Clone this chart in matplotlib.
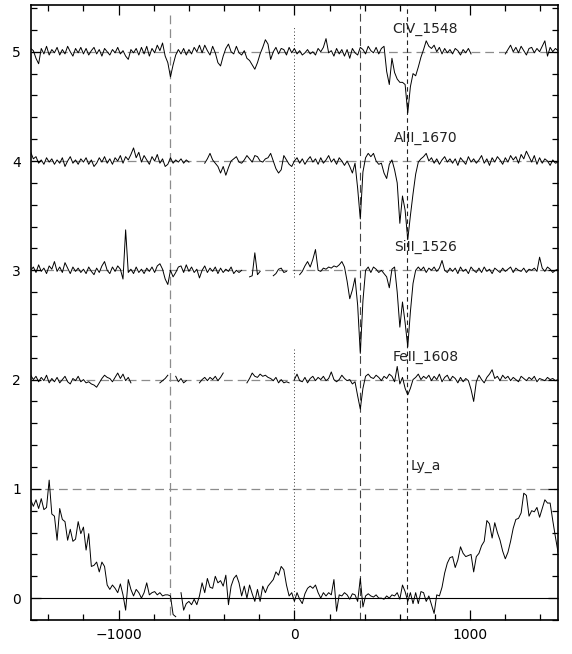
import numpy as np
import matplotlib
matplotlib.use('Agg')
import matplotlib.pyplot as plt
from matplotlib.ticker import MultipleLocator

# velocity grid (km/s), one sample every 15 km/s from -1500 to 1500
vel = np.arange(-1500, 1501, 15)
nan = np.nan

# normalised flux, rows of 10 samples (150 km/s per row)
civ_1548 = [
    1.03, 1.01, 0.94, 0.89, 1.03, 0.98, 1.05, 0.97, 1.02, 0.99,
    1.04, 0.97, 1.02, 0.98, 1.05, 1.00, 0.96, 1.03, 0.99, 1.04,
    0.98, 1.03, 0.97, 1.01, 1.04, 0.98, 1.02, 0.96, 1.03, 1.00,
    0.97, 1.02, 0.99, 1.04, 0.98, 1.01, 0.96, 0.93, 1.02, 0.99,
    1.03, 0.97, 1.04, 0.98, 1.05, 0.96, 1.03, 0.99, 1.06, 1.01,
    1.08, 0.96, 0.90, 0.77, 0.88, 0.97, 1.02, 0.98, 1.03, 0.97,
    1.02, 0.98, 1.04, 1.00, 1.06, 0.99, 1.06, 1.01, 0.97, 1.05,
    0.99, 0.90, 0.87, 0.96, 1.03, 1.07, 1.00, 0.98, 1.05, 0.99,
    0.97, 1.01, 0.94, 0.92, 0.88, 0.84, 0.90, 0.98, 1.04, 1.11,
    1.07, 0.93, 1.00, 1.04, 0.98, 1.03, 1.02, 0.97, 1.04, 0.99,
    1.03, 0.98, 1.01, 0.97, 0.99, 1.02, 0.98, 1.00, 0.97, 1.03,
    1.00, 1.04, 1.12, 0.99, 1.01, 0.96, 1.03, 0.98, 1.02, 0.96,
    1.02, 0.94, 1.03, 0.99, 0.97, 1.04, 1.02, 0.98, 1.05, 1.01,
    0.99, 1.04, 0.98, 1.03, 1.05, 0.82, 0.70, 0.94, 0.81, 0.75,
    0.72, 0.72, 0.70, 0.44, 0.68, 0.80, 0.78, 0.86, 0.95, 1.02,
    1.10, 1.05, 1.03, 1.06, 1.00, 1.04, 0.98, 1.03, 0.99, 1.02,
    0.98, 1.03, 1.01, 0.97, 1.02, 0.99, 1.03, 0.98, nan, nan,
    nan, nan, nan, nan, nan, nan, nan, nan, nan, nan,
    0.98, 1.02, 1.06, 1.00, 1.04, 0.99, 1.05, 1.01, 0.97, 1.03,
    1.04, 0.99, 1.03, 1.00, 1.05, 1.10, 0.96, 1.04, 1.00, 1.03,
    1.01]

alii_1670 = [
    1.08, 1.02, 1.04, 0.98, 1.01, 0.97, 1.03, 0.99, 1.02, 0.97,
    1.01, 0.98, 1.03, 0.95, 1.00, 1.04, 0.98, 1.01, 0.97, 1.02,
    0.99, 1.03, 0.97, 1.01, 0.95, 0.98, 1.03, 0.99, 1.04, 0.98,
    1.02, 0.97, 1.03, 1.00, 1.05, 0.98, 1.04, 1.01, 1.06, 1.12,
    1.03, 1.08, 0.99, 1.05, 1.01, 0.97, 1.04, 1.00, 1.06, 0.98,
    1.02, 0.95, 0.97, 1.03, 0.98, 1.01, 0.99, 1.02, 0.98, 1.01,
    0.99, nan, nan, nan, nan, nan, 0.98, 1.02, 1.07, 1.01,
    0.98, 0.95, 0.89, 0.95, 0.87, 0.94, 1.00, 1.02, 1.04, 0.99,
    0.98, 1.01, 1.05, 1.02, 0.99, 1.05, 1.04, 1.00, 0.99, 1.02,
    1.03, 1.07, 1.00, 0.93, 0.89, 0.92, 1.05, 1.01, 0.97, 0.95,
    1.00, 1.03, 0.98, 1.02, 0.97, 1.01, 1.04, 0.99, 1.02, 0.97,
    1.03, 0.98, 1.01, 1.05, 0.99, 1.02, 0.97, 1.03, 1.00, 0.96,
    1.00, 0.95, 0.89, 0.98, 0.75, 0.47, 0.90, 1.03, 1.07, 1.04,
    1.07, 1.00, 0.97, 0.98, 0.89, 0.84, 0.97, 1.01, 0.92, 0.80,
    0.43, 0.68, 0.55, 0.28, 0.50, 0.70, 0.88, 0.99, 1.02, 1.04,
    1.07, 1.00, 1.03, 0.98, 1.02, 0.97, 1.01, 1.04, 0.99, 1.02,
    0.98, 1.02, 0.96, 1.03, 1.00, 0.97, 1.04, 0.99, 1.02, 0.98,
    1.01, 1.05, 0.98, 1.02, 0.96, 1.03, 0.99, 1.04, 1.01, 0.97,
    1.03, 0.99, 1.05, 1.01, 1.04, 0.98, 1.06, 1.02, 1.09, 1.04,
    0.99, 1.05, 0.97, 1.03, 0.98, 1.02, 1.00, 0.96, 1.01, 0.98,
    0.99]

siii_1526 = [
    1.00, 1.03, 0.98, 1.05, 0.99, 1.02, 0.97, 1.04, 1.01, 1.08,
    0.99, 1.03, 0.98, 1.07, 1.02, 0.97, 1.03, 0.99, 1.02, 0.98,
    1.01, 0.97, 1.03, 0.99, 0.96, 1.02, 0.98, 1.04, 1.08, 1.00,
    0.97, 1.03, 0.99, 1.04, 1.01, 0.92, 1.37, 0.98, 1.01, 0.97,
    1.03, 0.98, 1.01, 0.97, 1.02, 0.99, 1.03, 0.98, 1.04, 1.06,
    1.01, 0.92, 0.87, 1.00, 0.94, 0.98, 1.03, 1.04, 0.98, 1.05,
    0.99, 1.03, 0.98, 1.01, 0.93, 1.00, 1.04, 0.98, 1.02, 0.99,
    1.03, 0.97, 1.02, 0.98, 1.01, 0.99, 1.03, 0.97, 1.00, 0.98,
    1.00, nan, nan, 0.94, 0.95, 1.16, 0.96, 0.99, nan, nan,
    nan, nan, 0.95, 0.97, 1.01, 1.02, 0.98, 0.99, nan, nan,
    nan, nan, 0.96, 0.99, 1.04, 1.08, 1.03, 1.10, 1.19, 1.00,
    0.99, 1.02, 1.01, 1.03, 1.02, 1.04, 1.03, 1.05, 1.08, 1.03,
    0.90, 0.74, 0.82, 0.93, 0.68, 0.24, 0.72, 1.00, 1.03, 0.98,
    1.03, 1.01, 0.98, 1.00, 0.97, 0.94, 0.84, 1.01, 1.03, 0.80,
    0.48, 0.71, 0.52, 0.30, 0.62, 0.88, 1.00, 1.03, 1.00, 1.03,
    0.98, 1.02, 1.00, 1.03, 0.99, 1.02, 1.09, 1.00, 0.98, 1.02,
    0.99, 1.02, 0.97, 1.03, 0.99, 1.01, 0.97, 1.03, 1.00, 0.98,
    1.02, 0.98, 1.03, 0.99, 1.01, 0.97, 1.02, 1.00, 0.98, 1.02,
    0.99, 1.01, 1.03, 0.98, 1.02, 1.00, 0.99, 1.02, 0.98, 1.01,
    1.00, 1.02, 0.99, 1.12, 1.02, 0.99, 1.03, 1.01, 0.98, 1.00,
    1.01]

feii_1608 = [
    1.04, 1.00, 1.03, 0.98, 1.02, 0.99, 1.04, 0.97, 1.01, 0.98,
    1.02, 0.97, 1.00, 1.03, 0.98, 0.96, 1.01, 0.99, 1.03, 0.98,
    1.00, 0.97, 0.98, 0.96, 0.95, 0.93, 0.97, 1.01, 1.04, 1.02,
    1.01, 0.98, 1.02, 1.06, 1.01, 1.05, 0.99, 1.02, 0.97, nan,
    nan, nan, nan, nan, nan, nan, nan, nan, nan, 0.97,
    0.99, 1.01, 1.04, nan, nan, 1.03, 0.98, 1.01, 0.97, 0.99,
    nan, nan, nan, nan, 0.97, 1.00, 1.02, 0.99, 1.02, 1.00,
    1.03, 0.99, 1.02, 1.06, nan, nan, nan, nan, nan, nan,
    nan, nan, 0.97, 1.01, 1.06, 1.03, 1.02, 1.05, 1.03, 1.04,
    1.02, 1.01, 0.99, 1.02, 0.97, 1.00, 0.97, 0.98, 0.97, nan,
    1.00, 1.05, 0.99, 0.98, 1.02, 0.97, 1.01, 1.03, 0.99, 1.02,
    1.00, 1.03, 0.99, 1.01, 1.07, 1.00, 0.98, 1.00, 1.04, 1.01,
    0.99, 1.00, 0.96, 0.98, 0.85, 0.73, 0.92, 1.03, 1.05, 1.02,
    1.01, 1.04, 1.02, 0.99, 1.03, 1.01, 1.05, 1.03, 0.98, 1.12,
    0.96, 1.02, 0.92, 0.86, 0.92, 1.00, 1.02, 1.05, 1.00, 1.03,
    1.01, 1.04, 0.99, 1.03, 1.00, 1.05, 0.98, 1.02, 1.04, 0.99,
    1.03, 1.01, 0.97, 1.02, 0.98, 1.01, 0.99, 0.91, 0.80, 0.98,
    1.04, 1.00, 0.97, 1.02, 1.05, 1.09, 1.01, 1.03, 0.99, 1.04,
    1.01, 1.03, 0.99, 1.02, 1.00, 0.98, 1.03, 1.01, 0.99, 1.02,
    1.00, 1.03, 0.98, 1.01, 1.00, 0.99, 1.02, 1.00, 1.01, 0.99,
    1.00]

ly_a = [
    0.90, 0.84, 0.90, 0.82, 0.91, 0.81, 0.83, 1.08, 0.77, 0.75,
    0.53, 0.82, 0.72, 0.70, 0.53, 0.63, 0.52, 0.54, 0.70, 0.59,
    0.65, 0.44, 0.59, 0.29, 0.30, 0.33, 0.24, 0.33, 0.29, 0.12,
    0.08, 0.12, 0.09, 0.05, 0.13, 0.03, -0.11, 0.17, 0.08, 0.02,
    0.08, 0.05, 0.00, 0.05, 0.14, 0.03, 0.05, 0.06, 0.03, 0.05,
    0.02, 0.03, 0.03, 0.02, -0.15, -0.17, nan, 0.05, -0.11, -0.05,
    -0.03, -0.06, -0.01, -0.06, 0.02, 0.14, 0.05, 0.18, 0.10, 0.09,
    0.20, 0.14, 0.16, 0.11, 0.21, -0.06, 0.11, 0.18, 0.21, 0.14,
    0.02, 0.11, 0.00, 0.12, 0.04, -0.03, 0.08, -0.03, 0.11, 0.05,
    0.11, 0.14, 0.17, 0.24, 0.21, 0.29, 0.26, 0.12, 0.02, 0.05,
    -0.03, 0.05, -0.01, -0.05, 0.04, 0.09, 0.11, 0.09, 0.12, 0.05,
    0.00, 0.05, 0.02, 0.05, 0.03, 0.17, -0.12, 0.03, 0.02, 0.05,
    0.03, -0.01, 0.04, 0.03, -0.03, 0.18, -0.08, 0.02, 0.04, 0.02,
    0.01, 0.03, 0.00, 0.00, -0.01, 0.02, 0.00, 0.03, 0.02, 0.05,
    -0.01, 0.12, 0.06, -0.03, 0.05, -0.05, 0.05, -0.05, 0.06, 0.05,
    -0.03, 0.02, -0.06, -0.14, 0.03, 0.02, 0.10, 0.23, 0.32, 0.37,
    0.38, 0.28, 0.35, 0.47, 0.41, 0.38, 0.39, 0.40, 0.24, 0.38,
    0.41, 0.48, 0.52, 0.71, 0.68, 0.55, 0.69, 0.60, 0.53, 0.43,
    0.36, 0.42, 0.52, 0.64, 0.72, 0.73, 0.78, 0.96, 0.94, 0.75,
    0.80, 0.79, 0.83, 0.74, 0.82, 0.90, 0.87, 0.87, 0.71, 0.56,
    0.42]

# stacking order, label and vertical offset of each transition
line_names = ['CIV_1548', 'AlII_1670', 'SiII_1526', 'FeII_1608', 'Ly_a']
line_flux = [civ_1548, alii_1670, siii_1526, feii_1608, ly_a]
line_offsets = [4, 3, 2, 1, 0]

# velocity markers (km/s)
v_gray = -706
v_comp1 = 372
v_comp2 = 641

fig = plt.figure(figsize=(5.72, 6.54), dpi=100)
ax = fig.add_axes([0.0537, 0.0520, 0.9219, 0.9399])

gray = '#8c8c8c'
# continuum levels (dashed) and zero level (solid)
for off in line_offsets:
    ax.axhline(off + 1, color=gray, lw=0.9, ls=(0, (7, 4)), zorder=1)
ax.axhline(0, color='black', lw=0.8, zorder=1)

# vertical markers
ax.plot([v_gray, v_gray], [-0.15, 5.38], color=gray, lw=0.9, ls=(0, (7, 4)), zorder=1)
ax.axvline(v_comp1, color='#444444', lw=0.8, ls=(0, (7, 4)), zorder=1)
ax.axvline(v_comp2, color='#222222', lw=0.8, ls=(0, (4, 3)), zorder=1)
ax.plot([0, 0], [-0.13, 2.30], color='#333333', lw=0.7, ls=(0, (1, 2.5)), zorder=1)
ax.plot([0, 0], [2.94, 5.24], color='#333333', lw=0.7, ls=(0, (1, 2.5)), zorder=1)

# spectra
for name, flux, off in zip(line_names, line_flux, line_offsets):
    ax.plot(vel, np.array(flux) + off, color='black', lw=0.7, zorder=3)
    ax.text(745, off + 1.21, name, ha='center', va='center', fontsize=10,
            color='#222222')

ax.set_xlim(-1500, 1500)
ax.set_ylim(-0.2, 5.425)

ax.xaxis.set_major_locator(MultipleLocator(1000))
ax.xaxis.set_minor_locator(MultipleLocator(200))
ax.yaxis.set_major_locator(MultipleLocator(1))
ax.yaxis.set_minor_locator(MultipleLocator(0.2))
ax.tick_params(which='both', direction='in', top=True, right=True,
               labelsize=10, width=0.9)
ax.tick_params(which='major', length=7)
ax.tick_params(which='minor', length=4)
ax.tick_params(axis='x', pad=6)
ax.tick_params(axis='y', pad=7)
for sp in ax.spines.values():
    sp.set_linewidth(1.2)

plt.savefig('out.png', dpi=100)
